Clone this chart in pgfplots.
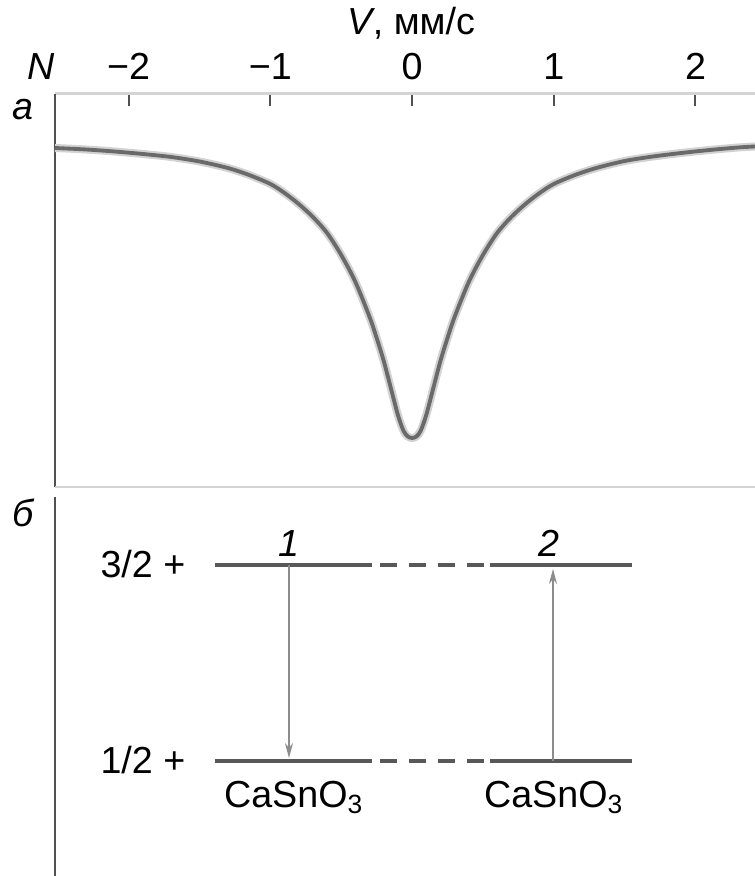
\documentclass[border=0pt]{standalone}
\usepackage{fontspec}
\setmainfont{Liberation Sans}
\usepackage{pgfplots}
\pgfplotsset{compat=1.18}
\usetikzlibrary{arrows.meta}

\definecolor{curve}{HTML}{6A6A6A}
\definecolor{halo}{HTML}{D2D2D2}
\definecolor{axisgray}{HTML}{D4D4D4}
\definecolor{frame}{HTML}{505050}
\definecolor{level}{HTML}{585858}
\definecolor{trans}{HTML}{8C8C8C}
\newcommand\F{\fontsize{11.3}{13}\selectfont}

\pgfplotstableread{
V N
-2.52 339
-2.3 337.5
-2.1 335.5
-1.9 333
-1.7 330
-1.5 325.5
-1.3 319
-1.15 312
-1.0 303
-0.9 294
-0.8 283
-0.7 270
-0.6 254
-0.5 232
-0.4 205
-0.3 170
-0.25 149
-0.2 126
-0.15 99
-0.1 72
-0.06 56
-0.03 50.5
0 49
0.03 50.5
0.06 56
0.1 72
0.15 99
0.2 126
0.25 149
0.3 170
0.4 205
0.5 232
0.6 254
0.7 270
0.8 283
0.9 294
1.0 303
1.15 312
1.3 319
1.5 326
1.7 330.5
1.9 334
2.1 337
2.3 339.5
2.42 340.5
}\spectrum

\begin{document}
\begin{tikzpicture}[font=\F]
\useasboundingbox (0,0) rectangle (226.5pt,262.8pt);

% (а) absorption spectrum
\begin{axis}[
  at={(16.5pt,116.7pt)}, anchor=south west,
  width=210pt, height=117.9pt, scale only axis,
  xmin=-2.52, xmax=2.42, ymin=0, ymax=393,
  axis x line*=top, axis y line*=left,
  x axis line style={draw=axisgray, line width=0.9pt, -},
  y axis line style={draw=frame, line width=0.5pt, -},
  xtick={-2,-1,0,1,2},
  xticklabels={−2,−1,0,1,2},
  ytick=\empty,
  tick align=inside,
  major tick length=3.6pt,
  xtick style={draw=frame, line width=0.6pt},
  xticklabel style={anchor=base, yshift=4.2pt, font=\F},
  clip=false,
]
\draw[axisgray, line width=0.6pt] (rel axis cs:0,0) -- (rel axis cs:1,0);
\addplot[halo, line width=2.4pt, smooth, tension=0.5] table[x=V, y=N] {\spectrum};
\addplot[curve, line width=1.15pt, smooth, tension=0.5] table[x=V, y=N] {\spectrum};
\end{axis}

% (б) nuclear levels
\begin{axis}[
  at={(16.5pt,0pt)}, anchor=south west,
  width=210pt, height=113.7pt, scale only axis,
  xmin=55, xmax=755, ymin=0, ymax=379,
  hide axis, clip=false,
]
\draw[frame, line width=0.5pt] (axis cs:55,0) -- (axis cs:55,379);
\pgfplotsinvokeforeach{311,115}{
  \addplot[level, line width=1.0pt] coordinates {(215,#1) (372,#1)};
  \addplot[level, line width=1.0pt, dash pattern=on 5.1pt off 3.6pt] coordinates {(380,#1) (485,#1)};
  \addplot[level, line width=1.0pt] coordinates {(490,#1) (632,#1)};
}
\addplot[trans, line width=0.5pt, -{Stealth[length=4.5pt,width=2.4pt]}] coordinates {(289,311) (289,118)};
\addplot[trans, line width=0.5pt, -{Stealth[length=4.5pt,width=2.4pt]}] coordinates {(553,115) (553,307)};
\node[anchor=base, inner sep=0pt, font=\F\itshape] at (axis cs:289,319) {1};
\node[anchor=base, inner sep=0pt, font=\F\itshape] at (axis cs:549,319) {2};
\node[anchor=base east, inner sep=0pt] at (axis cs:186,298) {3/2 +};
\node[anchor=base east, inner sep=0pt] at (axis cs:186,102) {1/2 +};
\node[anchor=base, inner sep=0pt] at (axis cs:294,68) {CaSnO\textsubscript{3}};
\node[anchor=base, inner sep=0pt] at (axis cs:554,68) {CaSnO\textsubscript{3}};
\end{axis}

% labels
\node[anchor=base, inner sep=0pt] at (123.4pt,252.3pt) {\textit{V}, мм/с};
\node[anchor=base east, inner sep=0pt, font=\F\itshape] at (16.6pt,238.8pt) {N};
\node[anchor=base, inner sep=0pt, font=\F\itshape] at (6.9pt,226.8pt) {а};
\node[anchor=base, inner sep=0pt, font=\F\itshape] at (6.9pt,104.7pt) {б};
\end{tikzpicture}
\end{document}
